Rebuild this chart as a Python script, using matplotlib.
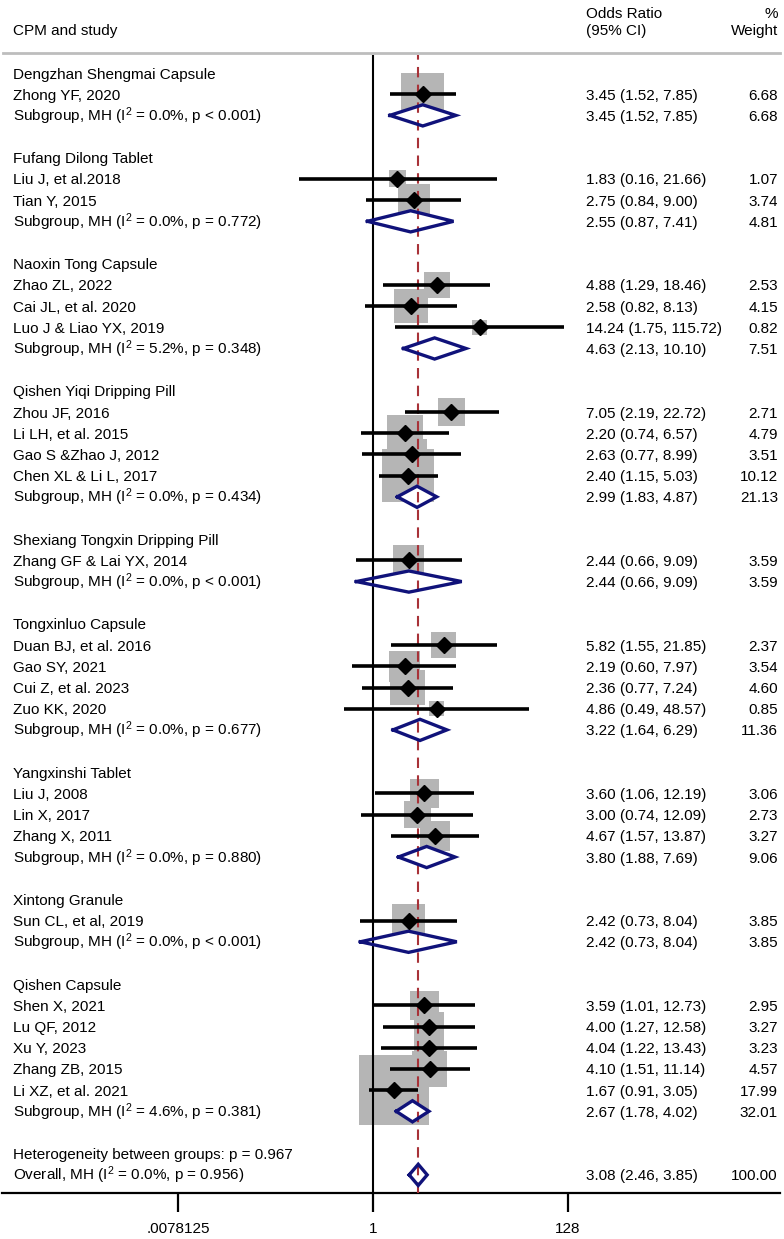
import numpy as np
import matplotlib
matplotlib.use("Agg")
import matplotlib.pyplot as plt
from matplotlib.transforms import blended_transform_factory

plt.rcParams['font.family'] = ['Liberation Sans', 'DejaVu Sans']
plt.rcParams['mathtext.default'] = 'regular'

# ---- data -------------------------------------------------------------
group_names = ["Dengzhan Shengmai Capsule", "Fufang Dilong Tablet", "Naoxin Tong Capsule",
               "Qishen Yiqi Dripping Pill", "Shexiang Tongxin Dripping Pill", "Tongxinluo Capsule",
               "Yangxinshi Tablet", "Xintong Granule", "Qishen Capsule"]

study_group = [0, 1, 1, 2, 2, 2, 3, 3, 3, 3, 4, 5, 5, 5, 5, 6, 6, 6, 7, 8, 8, 8, 8, 8]
study_labels = ["Zhong YF, 2020",
                "Liu J, et al.2018", "Tian Y, 2015",
                "Zhao ZL, 2022", "Cai JL, et al. 2020", "Luo J & Liao YX, 2019",
                "Zhou JF, 2016", "Li LH, et al. 2015", "Gao S &Zhao J, 2012", "Chen XL & Li L, 2017",
                "Zhang GF & Lai YX, 2014",
                "Duan BJ, et al. 2016", "Gao SY, 2021", "Cui Z, et al. 2023", "Zuo KK, 2020",
                "Liu J, 2008", "Lin X, 2017", "Zhang X, 2011",
                "Sun CL, et al, 2019",
                "Shen X, 2021", "Lu QF, 2012", "Xu Y, 2023", "Zhang ZB, 2015", "Li XZ, et al. 2021"]
study_or = [3.45, 1.83, 2.75, 4.88, 2.58, 14.24, 7.05, 2.20, 2.63, 2.40, 2.44,
            5.82, 2.19, 2.36, 4.86, 3.60, 3.00, 4.67, 2.42, 3.59, 4.00, 4.04, 4.10, 1.67]
study_lo = [1.52, 0.16, 0.84, 1.29, 0.82, 1.75, 2.19, 0.74, 0.77, 1.15, 0.66,
            1.55, 0.60, 0.77, 0.49, 1.06, 0.74, 1.57, 0.73, 1.01, 1.27, 1.22, 1.51, 0.91]
study_hi = [7.85, 21.66, 9.00, 18.46, 8.13, 115.72, 22.72, 6.57, 8.99, 5.03, 9.09,
            21.85, 7.97, 7.24, 48.57, 12.19, 12.09, 13.87, 8.04, 12.73, 12.58, 13.43, 11.14, 3.05]
study_w = [6.68, 1.07, 3.74, 2.53, 4.15, 0.82, 2.71, 4.79, 3.51, 10.12, 3.59,
           2.37, 3.54, 4.60, 0.85, 3.06, 2.73, 3.27, 3.85, 2.95, 3.27, 3.23, 4.57, 17.99]

sub_i2 = [0.0, 0.0, 5.2, 0.0, 0.0, 0.0, 0.0, 0.0, 4.6]
sub_p = ["< 0.001", "= 0.772", "= 0.348", "= 0.434", "< 0.001", "= 0.677", "= 0.880", "< 0.001", "= 0.381"]
sub_or = [3.45, 2.55, 4.63, 2.99, 2.44, 3.22, 3.80, 2.42, 2.67]
sub_lo = [1.52, 0.87, 2.13, 1.83, 0.66, 1.64, 1.88, 0.73, 1.78]
sub_hi = [7.85, 7.41, 10.10, 4.87, 9.09, 6.29, 7.69, 8.04, 4.02]
sub_w = [6.68, 4.81, 7.51, 21.13, 3.59, 11.36, 9.06, 3.85, 32.01]

overall = (3.08, 2.46, 3.85, 100.00)
overall_i2, overall_p = 0.0, "= 0.956"
het_p = "0.967"

tick_vals = [2.0 ** -7, 1, 2.0 ** 7]
tick_labels = [".0078125", "1", "128"]

# ---- layout -----------------------------------------------------------
W, H = 784, 1239
fig = plt.figure(figsize=(W / 100, H / 100), dpi=100)
ax_l, ax_r, ax_t, ax_b = 2, 780, 55, 1193
ax = fig.add_axes([ax_l / W, 1 - ax_b / H, (ax_r - ax_l) / W, (ax_b - ax_t) / H])

px_per_log2 = 27.86
x_one = 373
ax.set_xscale('log', base=2)
ax.set_xlim(2 ** ((ax_l - x_one) / px_per_log2), 2 ** ((ax_r - x_one) / px_per_log2))
row_px, row0 = 21.19, 73
ax.set_ylim((ax_b - row0) / row_px, (ax_t - row0) / row_px)

fs = 11
base_off = 5.5  # px from visual centre of caps down to baseline
navy = '#10127a'
box_gray = '#b5b5b5'
red = '#a83238'

trans = blended_transform_factory(ax.transAxes, ax.transData)
def xf(px):
    return (px - ax_l) / (ax_r - ax_l)

def label(px, y, s, ha='left'):
    ax.text(xf(px), y + base_off / row_px, s, transform=trans, ha=ha, va='baseline', fontsize=fs)

def diamond(o, lo, hi, y, h=0.5):
    xs = [lo, o, hi, o, lo]
    ys = [y, y - h, y, y + h, y]
    ax.fill(xs, ys, facecolor='white', edgecolor='none', zorder=2)
    ax.plot(xs, ys, color=navy, lw=2.4, zorder=4, solid_joinstyle='miter')

def right_cols(o, lo, hi, w, y):
    label(586, y, f"{o:.2f} ({lo:.2f}, {hi:.2f})")
    label(778, y, f"{w:.2f}", ha='right')

row = 0
study_rows = []
for g, name in enumerate(group_names):
    label(13, row, name)
    row += 1
    for i in [k for k, sg in enumerate(study_group) if sg == g]:
        study_rows.append(row)
        label(13, row, study_labels[i])
        right_cols(study_or[i], study_lo[i], study_hi[i], study_w[i], row)
        row += 1
    label(13, row, f"Subgroup, MH (I$^2$ = {sub_i2[g]:.1f}%, p {sub_p[g]})")
    right_cols(sub_or[g], sub_lo[g], sub_hi[g], sub_w[g], row)
    diamond(sub_or[g], sub_lo[g], sub_hi[g], row)
    row += 2

label(13, row, f"Heterogeneity between groups: p = {het_p}")
row += 1
label(13, row, f"Overall, MH (I$^2$ = {overall_i2:.1f}%, p {overall_p})")
right_cols(*overall, row)
diamond(overall[0], overall[1], overall[2], row)

# study boxes, CIs, points
study_rows = np.array(study_rows)
side_pt = 16.5 * np.sqrt(np.array(study_w)) * 0.72
ax.scatter(study_or, study_rows, s=side_pt ** 2, marker='s', color=box_gray, linewidths=0, zorder=1)
ax.hlines(study_rows, study_lo, study_hi, color='black', lw=2.6, zorder=5)
ax.plot(study_or, study_rows, 'D', ms=8, color='black', zorder=6, lw=0)

# reference lines
ax.axvline(1, color='black', lw=1.5, zorder=3)
ax.axvline(overall[0], color=red, lw=1.5, dashes=(5, 3.5), zorder=3)
ax.axhline((53 - row0) / row_px, xmin=0.001, color='#bdbdbd', lw=2, clip_on=False)

# axis styling
for s in ['left', 'right', 'top']:
    ax.spines[s].set_visible(False)
ax.spines['bottom'].set_linewidth(1.6)
ax.set_yticks([])
ax.set_xticks(tick_vals)
ax.set_xticklabels(tick_labels, fontsize=fs)
ax.minorticks_off()
ax.tick_params(axis='x', length=14, width=1.6, pad=7, direction='out')

# header
def hdr(px, py, s, ha='left'):
    fig.text(px / W, 1 - (py + base_off) / H, s, ha=ha, va='baseline', fontsize=fs)
hdr(13, 30, "CPM and study")
hdr(586, 12, "Odds Ratio")
hdr(586, 30, "(95% CI)")
hdr(778, 12, "%", ha='right')
hdr(778, 30, "Weight", ha='right')

fig.savefig("out.png", dpi=100)
